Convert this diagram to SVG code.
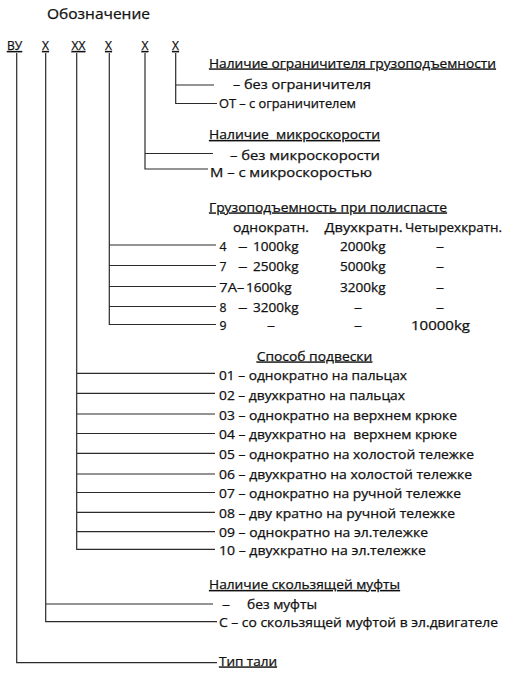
<svg xmlns="http://www.w3.org/2000/svg" width="516" height="676" viewBox="0 0 516 676">
<style>
text{font-family:"Open Sans","Liberation Sans",sans-serif;font-size:12.2px;fill:#111;stroke:#111;stroke-width:0.25}
.h{font-size:14.5px}
.c{font-size:12px;text-decoration:underline;text-anchor:middle}
.u{text-decoration:underline}
.p{white-space:pre}
.ln{fill:none;stroke:#2b2b2b;stroke-width:1.2}
</style>
<rect width="516" height="676" fill="#ffffff"/>
<g id="title"><text class="h" x="47" y="18.5" textLength="103" lengthAdjust="spacingAndGlyphs">Обозначение</text></g>
<g id="codes">
<text class="c" x="14.5" y="50">ВУ</text>
<text class="c" x="45.5" y="50">X</text>
<text class="c" x="78.5" y="50">XX</text>
<text class="c" x="108.5" y="50">X</text>
<text class="c" x="145" y="50">X</text>
<text class="c" x="175.5" y="50">X</text>
</g>
<g id="connectors" class="ln">
<path class="ln" d="M16.7 53V662.7H217"/>
<path class="ln" d="M45.7 53V621.7H217M45.7 604H213"/>
<path class="ln" d="M76.7 53V549.3H215M76.7 373.3H215M76.7 393.3H215M76.7 414H215M76.7 433.5H215M76.7 453.3H215M76.7 474H215M76.7 492.5H215M76.7 512.3H215M76.7 531.7H215"/>
<path class="ln" d="M109.3 53V324.5H216M109.3 245H216M109.3 265.5H216M109.3 286.5H216M109.3 306.5H216"/>
<path class="ln" d="M145 53V169H208M145 153.5H213"/>
<path class="ln" d="M175.7 53V103.5H217M175.7 85H214"/>
</g>
<g id="limiter">
<text class="u" x="209" y="67.5" textLength="287" lengthAdjust="spacingAndGlyphs">Наличие ограничителя грузоподъемности</text>
<text x="233" y="89" textLength="138" lengthAdjust="spacingAndGlyphs">– без ограничителя</text>
<text x="219" y="108" textLength="137" lengthAdjust="spacingAndGlyphs">ОТ – с ограничителем</text>
</g>
<g id="microspeed">
<text class="u p" x="209" y="139" textLength="171" lengthAdjust="spacingAndGlyphs">Наличие  микроскорости</text>
<text x="230" y="159.5" textLength="150" lengthAdjust="spacingAndGlyphs">– без микроскорости</text>
<text x="210" y="177" textLength="162" lengthAdjust="spacingAndGlyphs">М – с микроскоростью</text>
</g>
<g id="capacity">
<text class="u" x="209" y="211.5" textLength="238" lengthAdjust="spacingAndGlyphs">Грузоподъемность при полиспасте</text>
<text x="233" y="232" textLength="76" lengthAdjust="spacingAndGlyphs">однократн.</text>
<text x="324.5" y="232" textLength="78" lengthAdjust="spacingAndGlyphs">Двухкратн.</text>
<text x="405" y="232" textLength="97" lengthAdjust="spacingAndGlyphs">Четырехкратн.</text>
<text x="219.5" y="250.5">4</text><text x="238" y="250.5" textLength="9.5" lengthAdjust="spacingAndGlyphs">–</text><text x="253" y="250.5" textLength="45.5" lengthAdjust="spacingAndGlyphs">1000kg</text><text x="340" y="250.5" textLength="45.5" lengthAdjust="spacingAndGlyphs">2000kg</text><text x="436" y="250.5" textLength="8" lengthAdjust="spacingAndGlyphs">–</text>
<text x="219.5" y="271">7</text><text x="238" y="271" textLength="9.5" lengthAdjust="spacingAndGlyphs">–</text><text x="253" y="271" textLength="45.5" lengthAdjust="spacingAndGlyphs">2500kg</text><text x="340" y="271" textLength="45.5" lengthAdjust="spacingAndGlyphs">5000kg</text><text x="436" y="271" textLength="8" lengthAdjust="spacingAndGlyphs">–</text>
<text x="219.3" y="291.5" textLength="25" lengthAdjust="spacingAndGlyphs">7A–</text><text x="246" y="291.5" textLength="45.5" lengthAdjust="spacingAndGlyphs">1600kg</text><text x="340" y="291.5" textLength="45.5" lengthAdjust="spacingAndGlyphs">3200kg</text><text x="436" y="291.5" textLength="8" lengthAdjust="spacingAndGlyphs">–</text>
<text x="219.5" y="311.5">8</text><text x="238" y="311.5" textLength="9.5" lengthAdjust="spacingAndGlyphs">–</text><text x="253" y="311.5" textLength="45.5" lengthAdjust="spacingAndGlyphs">3200kg</text><text x="354" y="311.5" textLength="8" lengthAdjust="spacingAndGlyphs">–</text><text x="436" y="311.5" textLength="8" lengthAdjust="spacingAndGlyphs">–</text>
<text x="219.5" y="329.5">9</text><text x="267" y="329.5" textLength="8" lengthAdjust="spacingAndGlyphs">–</text><text x="354" y="329.5" textLength="8" lengthAdjust="spacingAndGlyphs">–</text><text x="411" y="329.5" textLength="59" lengthAdjust="spacingAndGlyphs">10000kg</text>
</g>
<g id="suspension">
<text class="u" x="256.7" y="360.5" textLength="115.6" lengthAdjust="spacingAndGlyphs">Способ подвески</text>
<text x="219" y="379.5" textLength="188" lengthAdjust="spacingAndGlyphs">01 – однократно на пальцах</text>
<text x="219" y="399.5" textLength="186" lengthAdjust="spacingAndGlyphs">02 – двухкратно на пальцах</text>
<text x="219" y="419.5" textLength="238" lengthAdjust="spacingAndGlyphs">03 – однократно на верхнем крюке</text>
<text class="p" x="219" y="439" textLength="238" lengthAdjust="spacingAndGlyphs">04 – двухкратно на  верхнем крюке</text>
<text x="219" y="458.5" textLength="255" lengthAdjust="spacingAndGlyphs">05 – однократно на холостой тележке</text>
<text x="219" y="478.5" textLength="253" lengthAdjust="spacingAndGlyphs">06 – двухкратно на холостой тележке</text>
<text x="219" y="498" textLength="242" lengthAdjust="spacingAndGlyphs">07 – однократно на ручной тележке</text>
<text x="219" y="517.5" textLength="236" lengthAdjust="spacingAndGlyphs">08 – дву кратно на ручной тележке</text>
<text x="219" y="536.5" textLength="209" lengthAdjust="spacingAndGlyphs">09 – однократно на эл.тележке</text>
<text x="219" y="555" textLength="207" lengthAdjust="spacingAndGlyphs">10 – двухкратно на эл.тележке</text>
</g>
<g id="clutch">
<text class="u" x="209" y="589" textLength="191" lengthAdjust="spacingAndGlyphs">Наличие скользящей муфты</text>
<text x="222" y="609" textLength="8" lengthAdjust="spacingAndGlyphs">–</text>
<text x="247" y="609" textLength="70" lengthAdjust="spacingAndGlyphs">без муфты</text>
<text x="219" y="627" textLength="279" lengthAdjust="spacingAndGlyphs">С – со скользящей муфтой в эл.двигателе</text>
</g>
<g id="hoist-type">
<text class="u" x="219" y="665.5" textLength="58" lengthAdjust="spacingAndGlyphs">Тип тали</text>
</g>
</svg>
